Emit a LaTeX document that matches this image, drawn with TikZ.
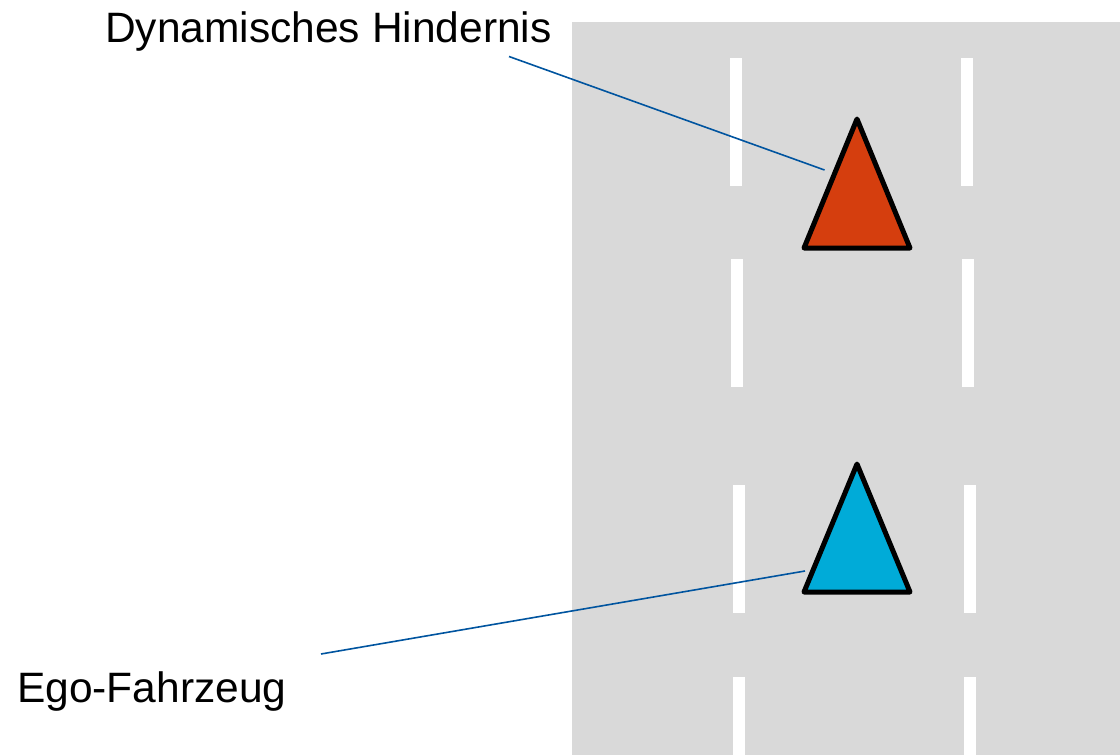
\documentclass[tikz,border=0pt]{standalone}
\usepackage{fontspec}
\setmainfont{Liberation Sans}
\definecolor{roadgray}{RGB}{217,217,217}
\definecolor{obstorange}{RGB}{213,62,14}
\definecolor{egoblue}{RGB}{0,171,216}
\definecolor{leaderblue}{RGB}{0,84,159}
\tikzset{
  lbl/.style={anchor=base west,inner sep=0pt,font=\fontsize{42.5}{50}\selectfont},
  lanemark/.style={fill=white,draw=none},
  vehicle/.style={draw=black,line width=5pt,line join=round},
  leader/.style={draw=leaderblue,line width=1.6pt}
}
\begin{document}
\begin{tikzpicture}[x=1pt,y=-1pt]
\useasboundingbox (0,0) rectangle (1120,755);
% road
\fill[roadgray] (572,22) rectangle (1120,755);
% lane markings
\fill[lanemark] (730,58) rectangle (742,186);
\fill[lanemark] (961,58) rectangle (973,186);
\fill[lanemark] (731,259) rectangle (743,387);
\fill[lanemark] (962,259) rectangle (974,387);
\fill[lanemark] (733,485) rectangle (745,613);
\fill[lanemark] (964,485) rectangle (976,613);
\fill[lanemark] (733,677) rectangle (745,755);
\fill[lanemark] (964,677) rectangle (976,755);
% vehicles
\draw[vehicle,fill=obstorange] (857,119) -- (910,248) -- (804,248) -- cycle;
\draw[vehicle,fill=egoblue] (857,464) -- (910,592) -- (804,592) -- cycle;
% labels
\node[lbl] (dyn) at (105,42) {Dynamisches Hindernis};
\node[lbl] (ego) at (17,702) {Ego-Fahrzeug};
\coordinate (dynstart) at (509,56.5);
\coordinate (dynend) at (824.5,170);
\coordinate (egostart) at (321,654);
\coordinate (egoend) at (805,571);
\draw[leader] (dynstart) -- (dynend);
\draw[leader] (egostart) -- (egoend);
\end{tikzpicture}
\end{document}
